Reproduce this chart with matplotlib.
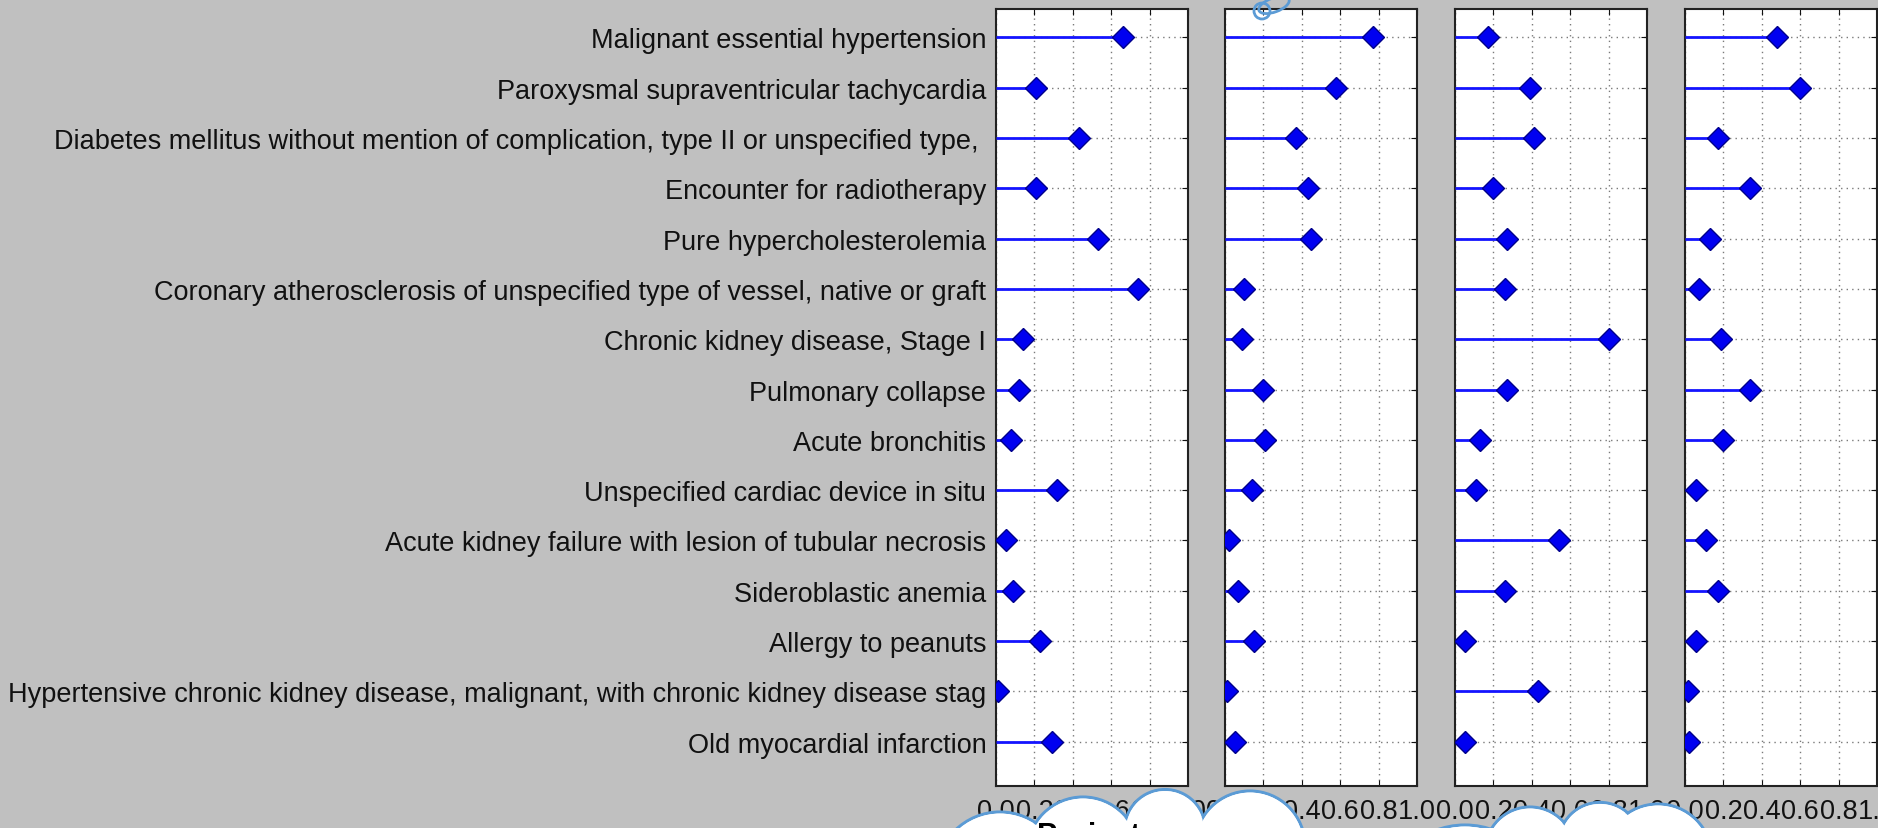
import matplotlib
matplotlib.use('Agg')
import matplotlib.pyplot as plt
from matplotlib.patches import Circle, Ellipse

# diagnoses, top row first
diagnoses = ['Malignant essential hypertension',
             'Paroxysmal supraventricular tachycardia',
             'Diabetes mellitus without mention of complication, type II or unspecified type, ',
             'Encounter for radiotherapy',
             'Pure hypercholesterolemia',
             'Coronary atherosclerosis of unspecified type of vessel, native or graft',
             'Chronic kidney disease, Stage I',
             'Pulmonary collapse',
             'Acute bronchitis',
             'Unspecified cardiac device in situ',
             'Acute kidney failure with lesion of tubular necrosis',
             'Sideroblastic anemia',
             'Allergy to peanuts',
             'Hypertensive chronic kidney disease, malignant, with chronic kidney disease stag',
             'Old myocardial infarction']

# one list of values per panel (same order as diagnoses)
panel1 = [0.66, 0.21, 0.43, 0.21, 0.53, 0.74, 0.14, 0.12, 0.08, 0.32, 0.05, 0.09, 0.23, 0.01, 0.29]
panel2 = [0.77, 0.58, 0.37, 0.43, 0.45, 0.10, 0.09, 0.20, 0.21, 0.14, 0.02, 0.07, 0.15, 0.01, 0.05]
panel3 = [0.17, 0.39, 0.41, 0.20, 0.27, 0.26, 0.80, 0.27, 0.13, 0.11, 0.54, 0.26, 0.05, 0.43, 0.05]
panel4 = [0.48, 0.60, 0.17, 0.34, 0.13, 0.075, 0.185, 0.34, 0.20, 0.055, 0.11, 0.17, 0.055, 0.015, 0.02]
panels = [panel1, panel2, panel3, panel4]

xticks = [0.0, 0.2, 0.4, 0.6, 0.8, 1.0]
xticklabels = ['0.0', '0.2', '0.4', '0.6', '0.8', '1.0']

plt.rcParams['font.family'] = ['Liberation Sans', 'DejaVu Sans']

W, H = 1878, 829
fig = plt.figure(figsize=(W / 100, H / 100), dpi=100, facecolor='#c0c0c0')

rows = list(range(len(diagnoses), 0, -1))  # first diagnosis on top
lefts = [996, 1225, 1455, 1685]  # panel left edges in pixels
top, bottom, width = 9.6, 787, 192

for k, vals in enumerate(panels):
    ax = fig.add_axes([lefts[k] / W, 1 - bottom / H, width / W, (bottom - top) / H])
    ax.hlines(rows, 0, vals, color='#1414ff', lw=2, zorder=3)
    ax.plot(vals, rows, 'D', ms=11, mfc='#0000f0', mec='#00008b', mew=1, zorder=4)
    ax.set_xlim(0, 1)
    ax.set_ylim(0.12, 15.57)
    ax.set_xticks(xticks)
    ax.set_xticklabels(xticklabels)
    ax.set_yticks(rows)
    if k == 0:
        ax.set_yticklabels(diagnoses)
    else:
        ax.set_yticklabels([])
    ax.grid(True, ls=(0, (1, 3)), color='#7a7a7a', lw=1)
    ax.set_axisbelow(True)
    ax.tick_params(direction='in', length=4, top=True, right=True,
                   labelsize=19.5, colors='#111111')
    ax.tick_params(axis='y', pad=7)
    ax.tick_params(axis='x', pad=9)
    for s in ax.spines.values():
        s.set_linewidth(1.5)
        s.set_color('#222222')

# cloud callouts drawn on top, in pixel coordinates
ov = fig.add_axes([0, 0, 1, 1], zorder=10)
ov.set_xlim(0, W)
ov.set_ylim(H, 0)
ov.axis('off')

cloud1 = [(1000, 877, 64), (1083, 854, 56), (1165, 831, 40.5), (1250, 847, 55)]
cloud2 = [(1465, 908, 82), (1530, 853, 45), (1600, 845, 41.6), (1658, 859, 54)]
edge = '#5b9bd5'
for c in cloud1 + cloud2:
    ov.add_patch(Circle(c[:2], c[2], fc='white', ec=edge, lw=2.2))
for c in cloud1 + cloud2:
    ov.add_patch(Circle(c[:2], c[2] - 1.6, fc='white', ec='none'))
ov.text(1037, 822, 'Project', fontsize=22, fontweight='bold', va='top', ha='left')

# little scribble at the top of the second panel
ov.add_patch(Circle((1262, 12), 8, fc='none', ec=edge, lw=2))
ov.add_patch(Ellipse((1274, 6), 32, 14, angle=-20, fc='none', ec=edge, lw=2))

fig.savefig('out.png', dpi=100, facecolor=fig.get_facecolor())
